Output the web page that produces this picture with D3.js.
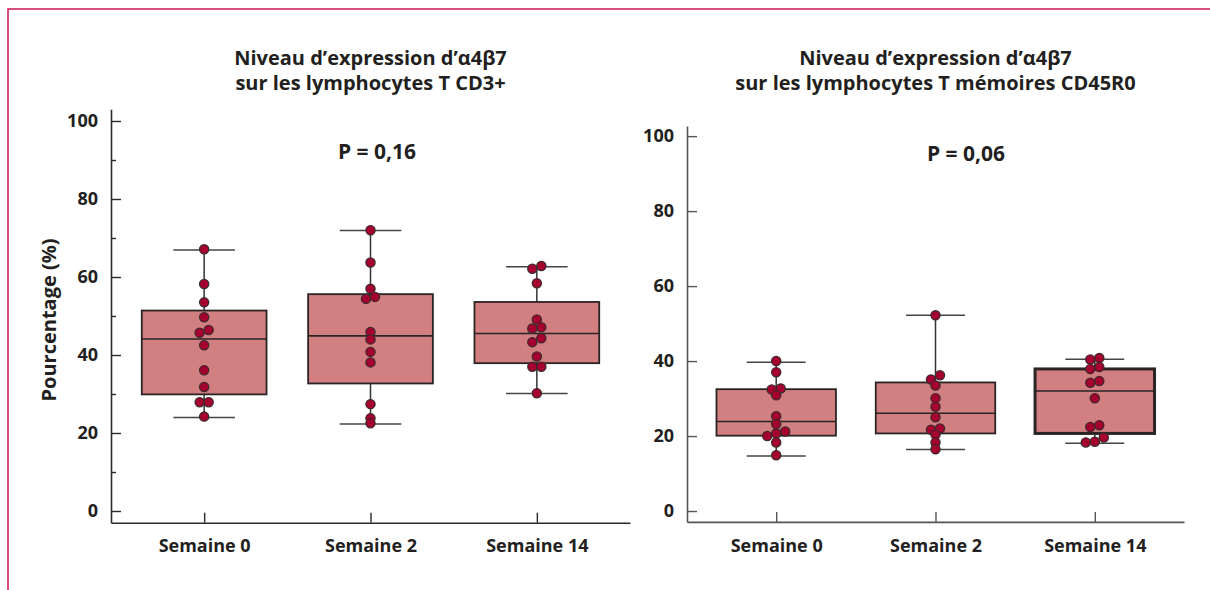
<!DOCTYPE html>
<html>
<head>
<meta charset="utf-8">
<script src="https://cdn.jsdelivr.net/npm/d3@7"></script>
<style>
  body { margin: 0; background: #fff; }
  text { font-family: "Open Sans", "Noto Sans", sans-serif; font-weight: 700; fill: #231f20; }
</style>
</head>
<body>
<svg id="chart"></svg>
<script>
// categories
const weeks = ['Semaine 0', 'Semaine 2', 'Semaine 14'];

// panel texts
const cd3Title = ['Niveau d’expression d’α4β7', 'sur les lymphocytes T CD3+'];
const cd45Title = ['Niveau d’expression d’α4β7', 'sur les lymphocytes T mémoires CD45R0'];
const cd3P = 'P = 0,16';
const cd45P = 'P = 0,06';
const yLabel = 'Pourcentage (%)';

// tick values
const cd3Ticks = [0, 20, 40, 60, 80, 100];
const cd3MinorTicks = [10, 30, 50, 70, 90];
const cd45Ticks = [0, 20, 40, 60, 80, 100];

// CD3+ : individual patients, per week
const cd3Points = [
    [67.1, 58.2, 53.5, 49.7, 46.4, 45.7, 42.5, 36.1, 31.8, 27.9, 27.9, 24.2],
    [72.0, 63.7, 57.0, 54.9, 54.4, 45.9, 44.0, 40.8, 38.1, 27.4, 23.8, 22.5],
    [62.8, 62.1, 58.4, 49.1, 47.1, 46.8, 44.3, 43.3, 39.6, 37.0, 37.0, 30.2]
];
// CD3+ : box plot summary
const cd3Low = [24.0, 22.3, 30.1];
const cd3Q1 = [29.9, 32.7, 37.9];
const cd3Median = [44.1, 44.9, 45.5];
const cd3Q3 = [51.4, 55.6, 53.6];
const cd3High = [66.9, 71.9, 62.6];

// CD45R0 : individual patients, per week
const cd45Points = [
    [40.0, 37.0, 32.7, 32.4, 30.9, 25.3, 23.2, 21.2, 20.7, 20.0, 18.3, 14.9],
    [52.2, 36.2, 35.1, 33.5, 30.1, 27.8, 25.0, 22.0, 21.7, 20.4, 18.3, 16.5],
    [40.8, 40.4, 38.4, 37.9, 34.7, 34.2, 30.1, 22.9, 22.4, 19.6, 18.5, 18.3]
];
// CD45R0 : box plot summary
const cd45Low = [14.7, 16.4, 18.1];
const cd45Q1 = [20.1, 20.7, 20.7];
const cd45Median = [23.9, 26.1, 32.0];
const cd45Q3 = [32.5, 34.3, 37.9];
const cd45High = [39.7, 52.2, 40.5];

const W = 1210, H = 590;
const svg = d3.select('#chart').attr('width', W).attr('height', H);

// frame (top and left edges only)
svg.append('path')
    .attr('d', `M${W},9H8V${H}`)
    .attr('fill', 'none')
    .attr('stroke', '#c8194f')
    .attr('stroke-width', 1.5);

// spread dots that sit on top of each other
function dodge(values, y, gap, step) {
    const order = values.map((v, i) => i).sort((a, b) => values[a] - values[b]);
    const off = new Array(values.length).fill(0);
    let group = [order[0]];
    const flush = () => {
        group.forEach((idx, k) => { off[idx] = (k - (group.length - 1) / 2) * step; });
    };
    for (let k = 1; k < order.length; k++) {
        const prev = order[k - 1], cur = order[k];
        if (Math.abs(y(values[cur]) - y(values[prev])) < gap) group.push(cur);
        else { flush(); group = [cur]; }
    }
    flush();
    return off;
}

function drawPanel(o) {
    const g = svg.append('g');

    const x = d3.scalePoint().domain(weeks).range(o.xRange).padding(0.56);
    const y = d3.scaleLinear().domain(o.yDomain).range(o.yRange);
    const step = x.step();
    const cx = (o.xRange[0] + o.xRange[1]) / 2;

    // title
    g.append('text')
        .attr('x', cx).attr('y', 65)
        .attr('text-anchor', 'middle')
        .attr('font-size', 20)
        .selectAll('tspan')
        .data(o.title)
        .join('tspan')
        .attr('x', cx)
        .attr('dy', (d, i) => i ? 25 : 0)
        .text(d => d);

    // p value
    g.append('text')
        .attr('x', o.pX).attr('y', o.pY)
        .attr('text-anchor', 'middle')
        .attr('font-size', 21)
        .text(o.p);

    // y axis
    const yAxis = g.append('g')
        .attr('transform', `translate(${o.xRange[0]},0)`)
        .call(d3.axisLeft(y).tickValues(o.ticks).tickSize(-10).tickSizeOuter(0).tickPadding(13).tickFormat(d3.format('d')));
    if (o.minor) {
        g.append('g')
            .attr('transform', `translate(${o.xRange[0]},0)`)
            .call(d3.axisLeft(y).tickValues(o.minor).tickSize(-5).tickFormat(''))
            .call(a => a.select('.domain').remove());
    }

    // x axis
    const xAxis = g.append('g')
        .attr('transform', `translate(0,${o.yRange[0]})`)
        .call(d3.axisBottom(x).tickSize(-10).tickSizeOuter(0).tickPadding(17));

    g.selectAll('.tick text').attr('font-size', 18).attr('font-family', null).attr('fill', '#231f20');
    g.selectAll('.domain, .tick line').attr('stroke', o.axisColor).attr('stroke-width', 1.6);
    g.selectAll('.tick line').attr('stroke-width', 1.4);

    // boxes
    const boxW = step * 0.75, capW = step * 0.37;
    weeks.forEach((wk, i) => {
        const bx = x(wk);
        const b = g.append('g');
        b.append('line')
            .attr('x1', bx).attr('x2', bx)
            .attr('y1', y(o.low[i])).attr('y2', y(o.high[i]))
            .attr('stroke', '#333').attr('stroke-width', 1.5);
        [o.low[i], o.high[i]].forEach(v => {
            b.append('line')
                .attr('x1', bx - capW / 2).attr('x2', bx + capW / 2)
                .attr('y1', y(v)).attr('y2', y(v))
                .attr('stroke', '#444').attr('stroke-width', 1.5);
        });
        b.append('rect')
            .attr('x', bx - boxW / 2).attr('width', boxW)
            .attr('y', y(o.q3[i])).attr('height', y(o.q1[i]) - y(o.q3[i]))
            .attr('fill', '#d17f80')
            .attr('stroke', '#2a2424')
            .attr('stroke-width', o.thick === i ? 3 : 1.8);
        b.append('line')
            .attr('x1', bx - boxW / 2).attr('x2', bx + boxW / 2)
            .attr('y1', y(o.median[i])).attr('y2', y(o.median[i]))
            .attr('stroke', '#2a2424').attr('stroke-width', 1.6);

        const off = dodge(o.points[i], y, 4.5, 9);
        b.selectAll('circle')
            .data(o.points[i])
            .join('circle')
            .attr('cx', (d, k) => bx + off[k])
            .attr('cy', d => y(d))
            .attr('r', 4.6)
            .attr('fill', '#a6002f')
            .attr('stroke', '#3c2b2d')
            .attr('stroke-width', 1.3);
    });

    if (o.yLabel) {
        g.append('text')
            .attr('transform', `translate(56,${(o.yRange[0] + o.yRange[1]) / 2 + 4}) rotate(-90)`)
            .attr('text-anchor', 'middle')
            .attr('font-size', 20)
            .text(o.yLabel);
    }
}

drawPanel({
    title: cd3Title, p: cd3P, pX: 377, pY: 159,
    points: cd3Points, low: cd3Low, q1: cd3Q1, median: cd3Median, q3: cd3Q3, high: cd3High,
    ticks: cd3Ticks, minor: cd3MinorTicks,
    xRange: [111, 630], yDomain: [-3, 103], yRange: [522.7, 109.3],
    axisColor: '#2b2b2b', yLabel: yLabel
});

drawPanel({
    title: cd45Title, p: cd45P, pX: 966, pY: 161,
    points: cd45Points, low: cd45Low, q1: cd45Q1, median: cd45Median, q3: cd45Q3, high: cd45High,
    ticks: cd45Ticks,
    xRange: [687, 1184], yDomain: [-2.9, 102.7], yRange: [521.9, 126],
    axisColor: '#555', thick: 2
});
</script>
</body>
</html>
